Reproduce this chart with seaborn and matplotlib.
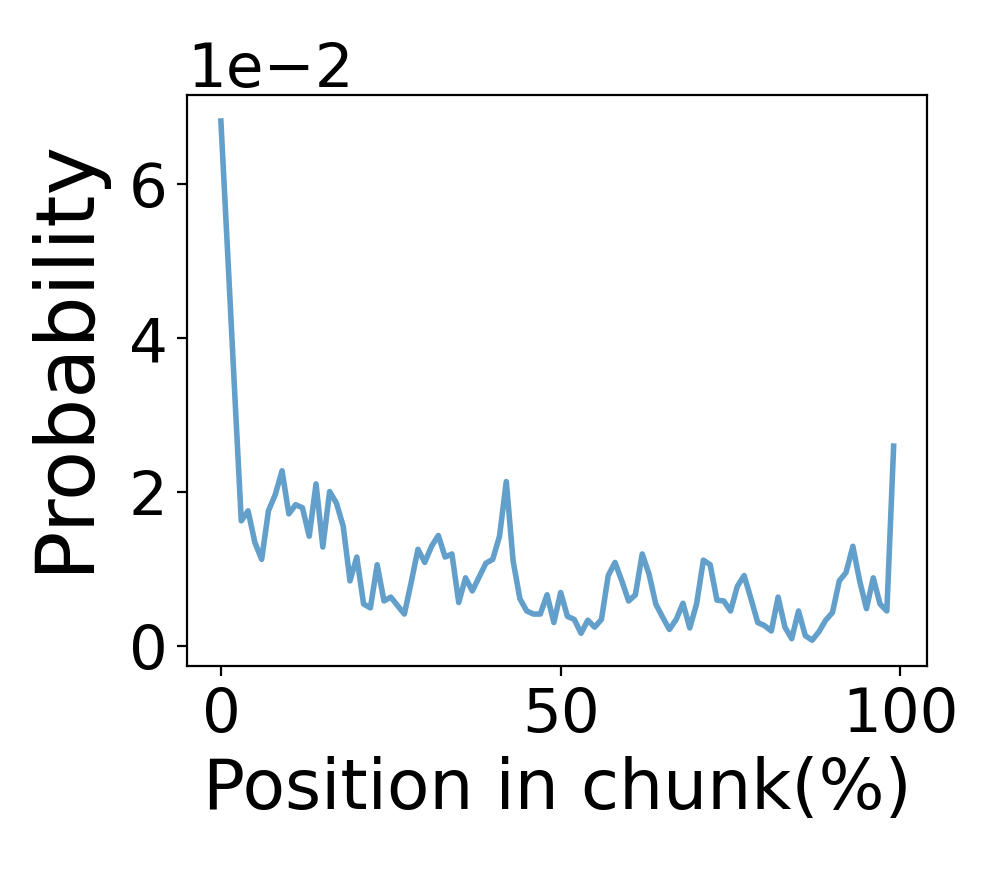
import numpy as np
import pandas as pd
import seaborn as sns
import matplotlib.pyplot as plt

# probability per position in chunk, in units of 1e-2
position = list(range(100))
prob_e2 = [
    6.82, 5.10, 3.35, 1.63, 1.76, 1.35, 1.13, 1.76, 1.97, 2.28,
    1.72, 1.84, 1.80, 1.43, 2.11, 1.29, 2.01, 1.86, 1.56, 0.85,
    1.16, 0.55, 0.50, 1.06, 0.59, 0.64, 0.53, 0.42, 0.83, 1.26,
    1.09, 1.30, 1.44, 1.16, 1.20, 0.57, 0.89, 0.72, 0.90, 1.08,
    1.13, 1.43, 2.14, 1.11, 0.62, 0.46, 0.42, 0.42, 0.67, 0.31,
    0.70, 0.39, 0.35, 0.17, 0.34, 0.25, 0.35, 0.92, 1.09, 0.85,
    0.59, 0.67, 1.20, 0.94, 0.55, 0.38, 0.22, 0.35, 0.56, 0.24,
    0.55, 1.12, 1.06, 0.60, 0.59, 0.46, 0.78, 0.92, 0.62, 0.31,
    0.27, 0.20, 0.64, 0.25, 0.10, 0.46, 0.14, 0.08, 0.19, 0.34,
    0.44, 0.85, 0.96, 1.30, 0.85, 0.49, 0.89, 0.55, 0.46, 2.60,
]

df = pd.DataFrame({"pos": position, "prob": np.array(prob_e2) * 1e-2})

fig = plt.figure(figsize=(4.98, 4.36), dpi=200)
ax = fig.add_subplot(1, 1, 1)
sns.lineplot(data=df, x="pos", y="prob", color="tab:blue", alpha=0.7, linewidth=2.0, ax=ax)

ax.ticklabel_format(axis="y", style="sci", scilimits=(0, 0))
ax.yaxis.get_offset_text().set_fontsize(22)
ax.set_xlabel("Position in chunk(%)", fontsize=25)
ax.set_ylabel("Probability", fontsize=29.5)
ax.yaxis.set_label_coords(-0.112, 0.544)
ax.set_xticks([0, 50, 100])
ax.set_yticks([0, 0.02, 0.04, 0.06])
ax.tick_params(labelsize=22)

plt.subplots_adjust(left=0.188, right=0.931, top=0.891, bottom=0.236)
plt.savefig("out.png", dpi=200)
